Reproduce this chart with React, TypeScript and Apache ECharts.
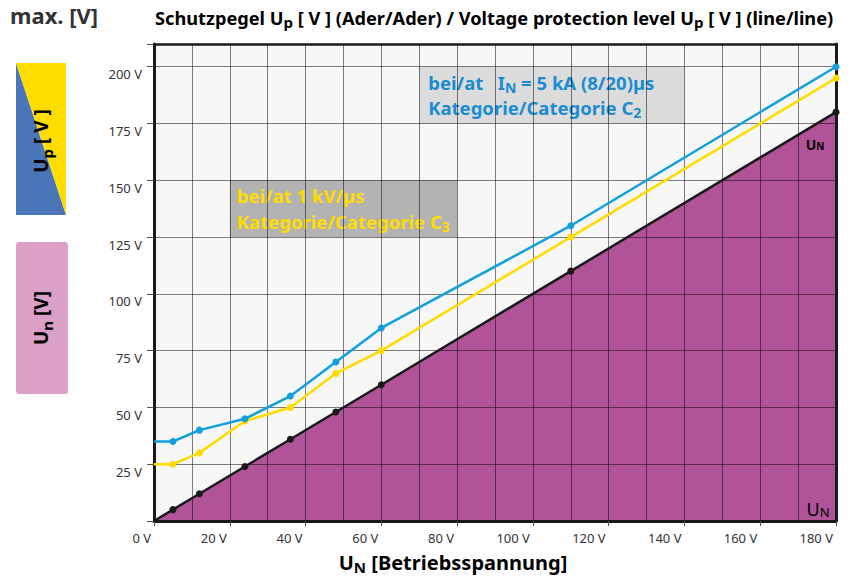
import React, { useEffect, useRef } from "react";
import * as echarts from "echarts";

// ---- data ----
const unX = [0, 5, 12, 24, 36, 48, 60, 110, 180];
const unValues = [0, 5, 12, 24, 36, 48, 60, 110, 180];
const c2Values = [35, 35, 40, 45, 55, 70, 85, 130, 200];
const c3Values = [25, 25, 30, 44, 50, 65, 75, 125, 195];
const xTickValues = [0, 20, 40, 60, 80, 100, 120, 140, 160, 180];
const yTickValues = [25, 50, 75, 100, 125, 150, 175, 200];

const FONT = '"Noto Sans", "Open Sans", sans-serif';
const BLUE = "#12a0dc";
const YELLOW = "#ffdc00";
const BLACK = "#1a1a1a";
const PURPLE = "#b05399";
const GRIDLINE = "rgba(0,0,0,0.5)";

function pairs(xs: number[], ys: number[], hideFirst: boolean) {
  return xs.map((x, i) =>
    hideFirst && i === 0 ? { value: [x, ys[i]], symbol: "none" } : { value: [x, ys[i]] }
  );
}

export default function App() {
  const ref = useRef<HTMLDivElement>(null);
  useEffect(() => {
    if (!ref.current) return;
    const chart = echarts.init(ref.current, undefined, { renderer: "svg" });

    const lineSeries = (name: string, ys: number[], color: string, z: number, extra: any = {}) => ({
      name,
      type: "line",
      data: pairs(unX, ys, true),
      z,
      symbol: "circle",
      symbolSize: 7,
      showAllSymbol: true,
      lineStyle: { color, width: 2.5 },
      itemStyle: { color },
      emphasis: { disabled: true },
      silent: true,
      ...extra,
    });

    const subRich = (color: string, size: number, subSize: number, lh: number, subPadBottom = 0) => ({
      a: { fontFamily: FONT, fontWeight: "bold", fontSize: size, color, lineHeight: lh },
      s: {
        fontFamily: FONT,
        fontWeight: "bold",
        fontSize: subSize,
        color,
        lineHeight: subSize,
        verticalAlign: "bottom",
        padding: [0, 0, subPadBottom, 0],
      },
    });

    const option: any = {
      animation: false,
      backgroundColor: "#ffffff",
      grid: {
        left: 154,
        right: 18,
        top: 44,
        bottom: 60,
        show: true,
        backgroundColor: "#f7f7f7",
        borderWidth: 0,
      },
      xAxis: [
        {
          type: "value",
          min: 0,
          max: 180,
          interval: 20,
          position: "bottom",
          z: 2,
          axisLine: { onZero: false, lineStyle: { color: BLACK, width: 3 } },
          axisTick: { show: true, length: 5, lineStyle: { color: "#555", width: 1 } },
          axisLabel: {
            formatter: (v: number) => (xTickValues.includes(v) ? v + " V" : ""),
            align: "right",
            padding: [0, 3, 0, 0],
            margin: 10,
            fontFamily: FONT,
            fontSize: 13,
            color: "#333",
          },
          splitLine: { show: true, lineStyle: { color: GRIDLINE, width: 1 } },
          minorTick: { show: false, splitNumber: 2 },
          minorSplitLine: { show: true, lineStyle: { color: GRIDLINE, width: 1 } },
        },
        {
          type: "value",
          min: 0,
          max: 180,
          position: "top",
          z: 2,
          axisLine: { show: true, onZero: false, lineStyle: { color: BLACK, width: 2.5 } },
          axisTick: { show: false },
          axisLabel: { show: false },
          splitLine: { show: false },
        },
      ],
      yAxis: [
        {
          type: "value",
          min: 0,
          max: 210,
          interval: 25,
          position: "left",
          z: 2,
          axisLine: { show: true, onZero: false, lineStyle: { color: BLACK, width: 3 } },
          axisTick: { show: true, length: 7, lineStyle: { color: "#555", width: 1 } },
          axisLabel: {
            formatter: (v: number) => (yTickValues.includes(v) ? v + " V" : ""),
            verticalAlign: "top",
            lineHeight: 13,
            padding: [1, 0, 0, 0],
            margin: 12,
            fontFamily: FONT,
            fontSize: 13,
            color: "#333",
          },
          splitLine: { show: true, lineStyle: { color: GRIDLINE, width: 1 } },
        },
        {
          type: "value",
          min: 0,
          max: 210,
          position: "right",
          z: 2,
          axisLine: { show: true, onZero: false, lineStyle: { color: BLACK, width: 3 } },
          axisTick: { show: false },
          axisLabel: { show: false },
          splitLine: { show: false },
        },
      ],
      series: [
        {
          name: "area",
          type: "line",
          data: pairs(unX, unValues, false),
          symbol: "none",
          z: 1,
          silent: true,
          lineStyle: { width: 0, opacity: 0 },
          areaStyle: { color: PURPLE, opacity: 1 },
        },
        lineSeries("Un", unValues, BLACK, 3),
        lineSeries("C3", c3Values, YELLOW, 4),
        lineSeries("C2", c2Values, BLUE, 5, {
          markArea: {
            silent: true,
            emphasis: { disabled: true },
            data: [
              [
                {
                  xAxis: 70,
                  yAxis: 200,
                  itemStyle: { color: "#dcdcdc", opacity: 1, borderWidth: 0 },
                  label: {
                    show: true,
                    position: "insideLeft",
                    distance: 9,
                    formatter:
                      "{a|bei/at   I}{s|N}{a| = 5 kA (8/20)µs}\n{a|Kategorie/Categorie C}{s|2}",
                    rich: subRich("#1a8ccf", 18.5, 14, 25, 1),
                  },
                },
                { xAxis: 140, yAxis: 175 },
              ],
              [
                {
                  xAxis: 20,
                  yAxis: 150,
                  itemStyle: { color: "#b3b3b3", opacity: 1, borderWidth: 0 },
                  label: {
                    show: true,
                    position: "insideLeft",
                    distance: 7,
                    formatter: "{a|bei/at 1 kV/µs}\n{a|Kategorie/Categorie C}{s|3}",
                    rich: subRich("#ffdd00", 18.5, 14, 26, 1),
                  },
                },
                { xAxis: 80, yAxis: 125 },
              ],
            ],
          },
        }),
      ],
      graphic: [
        {
          type: "text",
          left: 10,
          top: 4,
          style: { text: "max. [V]", font: `bold 22px ${FONT}`, fill: "#333" },
        },
        {
          type: "text",
          x: 155,
          y: 18,
          style: {
            text:
              "{a|Schutzpegel U}{s|p}{a| [ V ] (Ader/Ader) / Voltage protection level U}{s|p}{a| [ V ] (line/line)}",
            rich: subRich("#222", 18.2, 15, 22),
            verticalAlign: "middle",
            align: "left",
          },
        },
        // Up legend box
        {
          type: "polygon",
          shape: { points: [[16, 63], [16, 215], [66, 215]] },
          style: { fill: "#4a76b9" },
        },
        {
          type: "polygon",
          shape: { points: [[16, 63], [66, 63], [66, 215]] },
          style: { fill: "#ffdd00" },
        },
        {
          type: "text",
          x: 41,
          y: 141,
          rotation: Math.PI / 2,
          style: {
            text: "{a|U}{s|p}{a| [ V ]}",
            rich: subRich("#1a1a1a", 19, 15, 26),
            align: "center",
            verticalAlign: "middle",
          },
        },
        // Un legend box
        {
          type: "rect",
          shape: { x: 16, y: 242, width: 52, height: 152, r: 3 },
          style: { fill: "#dba0c8" },
        },
        {
          type: "text",
          x: 41,
          y: 318,
          rotation: Math.PI / 2,
          style: {
            text: "{a|U}{s|n}{a| [V]}",
            rich: subRich("#1a1a1a", 19, 15, 26),
            align: "center",
            verticalAlign: "middle",
          },
        },
        // x-axis title
        {
          type: "text",
          x: 453,
          y: 562,
          style: {
            text: "{a|U}{s|N}{a| [Betriebsspannung]}",
            rich: subRich("#222", 20, 15, 24),
            align: "center",
            verticalAlign: "middle",
          },
        },
        // UN labels inside purple
        {
          type: "text",
          x: 815,
          y: 143,
          z: 10,
          style: {
            text: "{u|U}{n|N}",
            rich: {
              u: { fontFamily: FONT, fontWeight: "bold", fontSize: 14, color: "#33202e", lineHeight: 16, verticalAlign: "bottom" },
              n: { fontFamily: FONT, fontWeight: "bold", fontSize: 10, color: "#33202e", lineHeight: 13, verticalAlign: "bottom" },
            },
            align: "center",
            verticalAlign: "middle",
          },
        },
        {
          type: "text",
          x: 818,
          y: 508,
          z: 10,
          style: {
            text: "{u|U}{n|N}",
            rich: {
              u: { fontFamily: FONT, fontSize: 18, color: "#3a2535", lineHeight: 20, verticalAlign: "bottom" },
              n: { fontFamily: FONT, fontSize: 13, color: "#3a2535", lineHeight: 16, verticalAlign: "bottom" },
            },
            align: "center",
            verticalAlign: "middle",
          },
        },
      ],
    };

    chart.setOption(option);
    return () => chart.dispose();
  }, []);

  return (
    <div
      ref={ref}
      style={{ position: "fixed", left: 0, top: 0, width: 854, height: 581 }}
    />
  );
}
